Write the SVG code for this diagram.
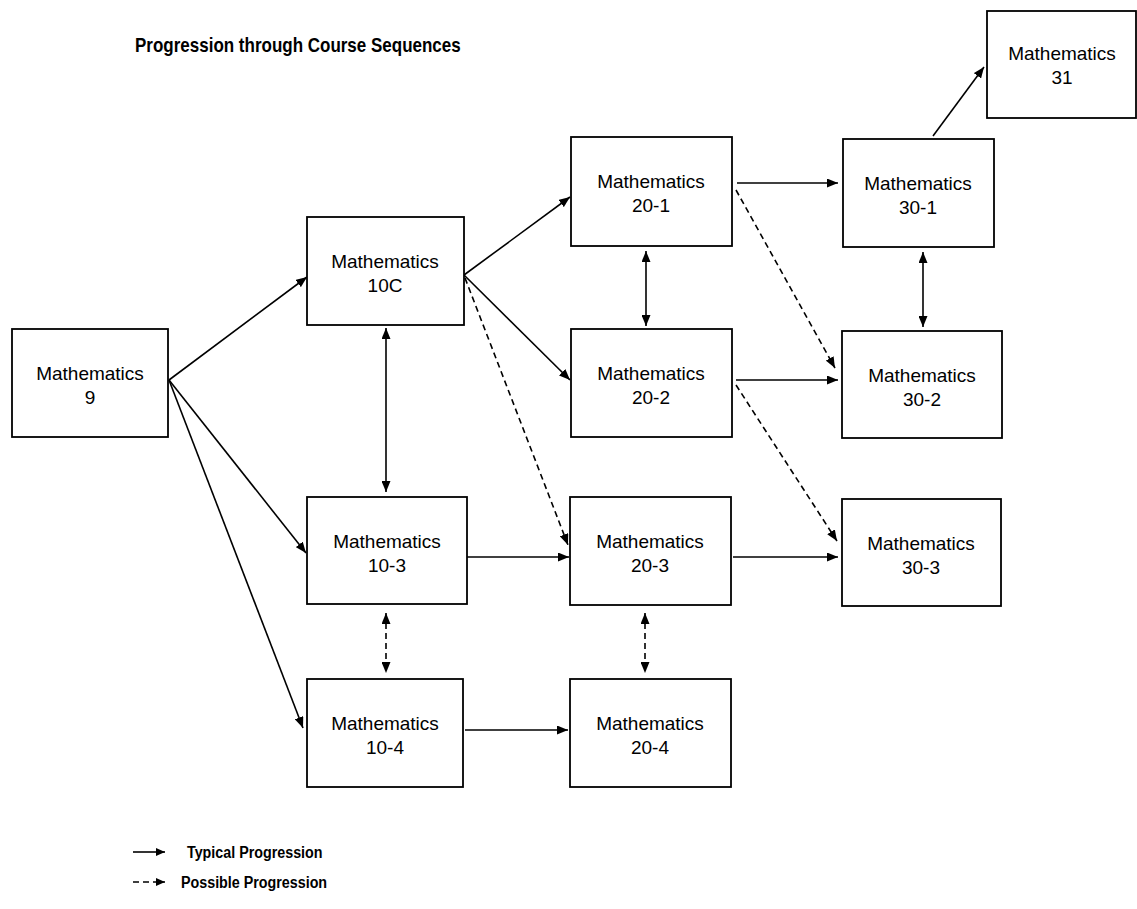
<svg xmlns="http://www.w3.org/2000/svg" width="1137" height="909" viewBox="0 0 1137 909">
<style>
.box{fill:#fff;stroke:#000;stroke-width:1.8}
.lbl{font-family:"Liberation Sans",Arial,sans-serif;font-size:19px;fill:#000;text-anchor:middle}
.c{fill:none;stroke:#000;stroke-width:1.6}
.d{fill:none;stroke:#000;stroke-width:1.6;stroke-dasharray:6 4}
.hd{font-family:"Liberation Sans",Arial,sans-serif;font-weight:bold;fill:#000}
</style>
<defs>
<marker id="ah" viewBox="0 0 10 10" refX="10" refY="5" markerWidth="9" markerHeight="8" markerUnits="userSpaceOnUse" orient="auto-start-reverse" preserveAspectRatio="none">
<path d="M0,0 L10,5 L0,10 Z" fill="#000"/>
</marker>
<marker id="am" viewBox="0 0 10 10" refX="10" refY="5" markerWidth="11" markerHeight="9" markerUnits="userSpaceOnUse" orient="auto-start-reverse" preserveAspectRatio="none">
<path d="M0,0 L10,5 L0,10 Z" fill="#000"/>
</marker>
</defs>
<rect width="1137" height="909" fill="#fff"/>
<text class="hd" font-size="17" transform="translate(135,52) scale(1,1.2)">Progression through Course Sequences</text>

<g id="connectors">
<line class="c" x1="169" y1="380" x2="307" y2="277" marker-end="url(#am)"/>
<line class="c" x1="169" y1="380" x2="306" y2="553" marker-end="url(#am)"/>
<line class="c" x1="169" y1="380" x2="303" y2="728" marker-end="url(#am)"/>
<line class="c" x1="464" y1="275" x2="570" y2="197" marker-end="url(#am)"/>
<line class="c" x1="464" y1="275" x2="570" y2="380" marker-end="url(#am)"/>
<line class="d" x1="465" y1="278" x2="568" y2="545" marker-end="url(#am)"/>
<line class="c" x1="386" y1="328" x2="386" y2="492" marker-start="url(#am)" marker-end="url(#am)"/>
<line class="c" x1="737" y1="183" x2="838" y2="183" marker-end="url(#am)"/>
<line class="d" x1="736" y1="190" x2="835" y2="368" marker-end="url(#am)"/>
<line class="c" x1="646" y1="251" x2="646" y2="326" marker-start="url(#am)" marker-end="url(#am)"/>
<line class="c" x1="736" y1="380" x2="838" y2="380" marker-end="url(#am)"/>
<line class="d" x1="736" y1="385" x2="837" y2="541" marker-end="url(#am)"/>
<line class="c" x1="923" y1="252" x2="923" y2="327" marker-start="url(#am)" marker-end="url(#am)"/>
<line class="c" x1="933" y1="136" x2="984" y2="67" marker-end="url(#am)"/>
<line class="c" x1="467" y1="557" x2="569" y2="557" marker-end="url(#am)"/>
<line class="c" x1="733" y1="557" x2="838" y2="557" marker-end="url(#am)"/>
<line class="d" x1="386" y1="613" x2="386" y2="673" marker-start="url(#am)" marker-end="url(#am)"/>
<line class="d" x1="645" y1="613" x2="645" y2="673" marker-start="url(#am)" marker-end="url(#am)"/>
<line class="c" x1="465" y1="730" x2="568" y2="730" marker-end="url(#am)"/>
</g>

<g id="math9"><rect class="box" x="12" y="329" width="156" height="108"/><text class="lbl" x="90" y="380">Mathematics</text><text class="lbl" x="90" y="404">9</text></g>
<g id="math10c"><rect class="box" x="307" y="217" width="157" height="108"/><text class="lbl" x="385" y="268">Mathematics</text><text class="lbl" x="385" y="292">10C</text></g>
<g id="math10-3"><rect class="box" x="307" y="497" width="160" height="107"/><text class="lbl" x="387" y="548">Mathematics</text><text class="lbl" x="387" y="572">10-3</text></g>
<g id="math10-4"><rect class="box" x="307" y="679" width="156" height="108"/><text class="lbl" x="385" y="730">Mathematics</text><text class="lbl" x="385" y="754">10-4</text></g>
<g id="math20-1"><rect class="box" x="571" y="137" width="161" height="109"/><text class="lbl" x="651" y="188">Mathematics</text><text class="lbl" x="651" y="212">20-1</text></g>
<g id="math20-2"><rect class="box" x="571" y="329" width="161" height="108"/><text class="lbl" x="651" y="380">Mathematics</text><text class="lbl" x="651" y="404">20-2</text></g>
<g id="math20-3"><rect class="box" x="570" y="497" width="161" height="108"/><text class="lbl" x="650" y="548">Mathematics</text><text class="lbl" x="650" y="572">20-3</text></g>
<g id="math20-4"><rect class="box" x="570" y="679" width="161" height="108"/><text class="lbl" x="650" y="730">Mathematics</text><text class="lbl" x="650" y="754">20-4</text></g>
<g id="math30-1"><rect class="box" x="843" y="139" width="151" height="108"/><text class="lbl" x="918" y="190">Mathematics</text><text class="lbl" x="918" y="214">30-1</text></g>
<g id="math30-2"><rect class="box" x="842" y="331" width="160" height="107"/><text class="lbl" x="922" y="382">Mathematics</text><text class="lbl" x="922" y="406">30-2</text></g>
<g id="math30-3"><rect class="box" x="842" y="499" width="159" height="107"/><text class="lbl" x="921" y="550">Mathematics</text><text class="lbl" x="921" y="574">30-3</text></g>
<g id="math31"><rect class="box" x="987" y="11" width="149" height="107"/><text class="lbl" x="1062" y="60">Mathematics</text><text class="lbl" x="1062" y="84">31</text></g>

<g id="legend">
<line class="c" x1="133" y1="852" x2="165" y2="852" marker-end="url(#ah)"/>
<line class="d" x1="133" y1="882" x2="165" y2="882" stroke-dasharray="5 4" marker-end="url(#ah)"/>
<text class="hd" font-size="14.3" transform="translate(187,858) scale(1,1.2)">Typical Progression</text>
<text class="hd" font-size="14.3" transform="translate(181,888) scale(1,1.2)">Possible Progression</text>
</g>
</svg>
